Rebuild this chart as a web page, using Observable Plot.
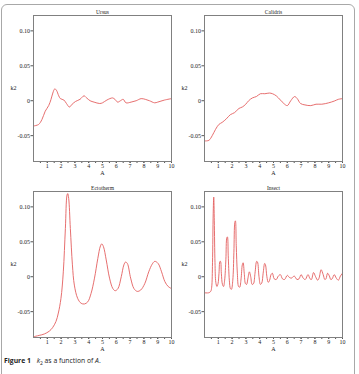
<!DOCTYPE html>
<html><head><meta charset="utf-8">
<script src="https://cdn.jsdelivr.net/npm/d3@7"></script>
<script src="https://cdn.jsdelivr.net/npm/@observablehq/plot@0.6"></script>
<style>
body{margin:0;background:#fff;width:359px;height:374px;overflow:hidden;position:relative;}
#border{position:absolute;left:1px;top:4px;width:352px;height:390px;border:1px solid #a8a8a8;border-radius:6px;}
.pan{position:absolute;}
#cap{position:absolute;left:4px;top:356px;font-family:"Open Sans",sans-serif;font-size:6.8px;color:#222;white-space:nowrap;}
#cap b{font-weight:700;margin-right:4px;}
</style></head><body>
<div id="border"></div>
<div id="p1" class="pan" style="left:0;top:0"></div>
<div id="p2" class="pan" style="left:179px;top:0"></div>
<div id="p3" class="pan" style="left:0;top:176px"></div>
<div id="p4" class="pan" style="left:179px;top:176px"></div>
<div id="cap"><b>Figure 1</b> <i>k</i><sub style="font-size:5px">2</sub> as a function of <i>A</i>.</div>
<script>
const titles = ["Ursus", "Calidris", "Ectotherm", "Insect"];
const xTicks = [1,2,3,4,5,6,7,8,9,10];
const xMinorTicks = [0.5,1,1.5,2,2.5,3,3.5,4,4.5,5,5.5,6,6.5,7,7.5,8,8.5,9,9.5,10];
const yTicks = [-0.05, 0, 0.05, 0.10];
const yTickLabels = ["-0.05", "0", "0.05", "0.10"];

const ursusA = [0.05,0.37,0.61,0.85,1.1,1.27,1.4,1.54,1.66,1.83,1.95,2.2,2.39,2.6,2.8,3.05,3.37,3.66,3.85,4.1,4.39,4.8,5.0,5.32,5.73,5.9,6.1,6.3,6.5,6.7,7.07,7.44,7.8,8.1,8.4,8.78,9.0,9.5,10];
const ursusK = [-0.036,-0.034,-0.027,-0.015,-0.007,0.002,0.011,0.017,0.015,0.007,0.003,0.001,-0.004,-0.009,-0.005,-0.001,0.002,0.007,0.004,0.0,-0.002,-0.004,-0.003,0.001,0.004,0.002,-0.002,0.0,0.002,-0.003,-0.002,0.0,0.003,0.002,0.0,-0.003,-0.002,0.001,0.003];

const calidrisA = [0.05,0.32,0.56,0.8,1.04,1.28,1.58,1.87,2.18,2.5,2.74,2.99,3.2,3.47,3.76,4.05,4.37,4.7,4.93,5.2,5.5,5.75,6.0,6.25,6.53,6.72,6.96,7.28,7.7,8.08,8.5,9.0,9.4,9.7,10];
const calidrisK = [-0.0576,-0.0567,-0.05,-0.041,-0.034,-0.031,-0.026,-0.02,-0.017,-0.011,-0.009,-0.005,0.0,0.004,0.006,0.01,0.01,0.011,0.01,0.007,0.001,-0.004,-0.007,0.0,0.006,0.003,-0.004,-0.006,-0.007,-0.005,-0.005,-0.003,-0.0005,0.002,0.003];

const ectoA = [0.05,0.41,0.78,1.14,1.38,1.63,1.8,1.99,2.16,2.31,2.43,2.48,2.55,2.67,2.82,2.96,3.2,3.45,3.69,3.93,4.17,4.42,4.66,4.85,4.95,5.07,5.27,5.51,5.75,5.92,6.12,6.36,6.55,6.67,6.8,7.04,7.28,7.52,7.77,8.06,8.35,8.6,8.79,9.03,9.28,9.52,9.76,10];
const ectoK = [-0.0857,-0.084,-0.082,-0.078,-0.073,-0.064,-0.052,-0.031,0.007,0.069,0.117,0.119,0.112,0.069,0.017,-0.012,-0.031,-0.038,-0.039,-0.036,-0.024,-0.002,0.026,0.044,0.047,0.043,0.024,-0.002,-0.017,-0.02,-0.017,0.0,0.017,0.021,0.019,-0.002,-0.017,-0.021,-0.019,-0.01,0.007,0.018,0.022,0.019,0.007,-0.007,-0.014,-0.017];

const insectA = [0,0.3,0.45,0.52,0.58,0.63,0.67,0.71,0.76,0.82,0.9,0.98,1.05,1.12,1.16,1.22,1.3,1.38,1.46,1.55,1.62,1.66,1.72,1.8,1.88,1.95,2.05,2.13,2.2,2.24,2.3,2.38,2.47,2.55,2.65,2.74,2.8,2.88,2.97,3.05,3.15,3.25,3.35,3.45,3.55,3.66,3.78,3.84,3.95,4.05,4.15,4.25,4.36,4.42,4.52,4.62,4.72,4.82,4.92,5.05,5.2,5.35,5.5,5.65,5.8,6.0,6.15,6.3,6.5,6.7,6.85,7.0,7.15,7.3,7.5,7.65,7.75,7.9,8.05,8.2,8.3,8.45,8.6,8.72,8.8,8.92,9.05,9.15,9.25,9.4,9.55,9.7,9.85,10];
const insectK = [-0.023,-0.023,-0.021,-0.015,0.02,0.09,0.114,0.08,0.02,-0.008,-0.014,-0.01,0.005,0.022,0.022,0.005,-0.011,-0.014,-0.005,0.025,0.056,0.057,0.03,-0.005,-0.017,-0.018,-0.005,0.035,0.078,0.08,0.045,0.005,-0.014,-0.015,-0.003,0.017,0.02,0.005,-0.01,-0.011,-0.002,0.007,0.0,-0.011,-0.01,0.005,0.022,0.021,0.0,-0.011,-0.009,0.005,0.019,0.017,0.0,-0.008,-0.005,0.003,0.005,-0.003,-0.004,0.001,0.003,-0.003,-0.004,0.002,-0.001,-0.002,0.001,-0.004,-0.003,0.003,-0.002,-0.004,0.003,-0.003,-0.004,0.006,0.0,-0.005,-0.002,0.01,0.003,-0.004,-0.003,0.005,0.001,-0.004,-0.003,0.003,-0.002,-0.005,0.001,0.005];

const lineColor = "#e35f5f";

function panel(id, title, A, K, ml) {
  const data = A.map((a, i) => ({a, k: K[i]}));
  const plot = Plot.plot({
    width: ml + 138 + 10,
    height: 15 + 146 + 26,
    marginLeft: ml, marginRight: 10, marginTop: 15, marginBottom: 26,
    x: {domain: [0, 10]},
    y: {domain: [-0.087, 0.122]},
    style: {fontFamily: "'Liberation Serif', serif", fontSize: "6px", color: "#222", background: "transparent", overflow: "visible"},
    marks: [
      Plot.axisX(xMinorTicks, {tickSize: 2, tickFormat: () => "", label: null, stroke: "#555"}),
      Plot.axisX(xTicks, {tickSize: 2, tickPadding: 0.5, label: null, stroke: "#555"}),
      Plot.axisY(yTicks, {tickSize: 2.5, tickPadding: 1, label: null, stroke: "#555", tickFormat: d => yTickLabels[yTicks.indexOf(d)]}),
      Plot.line(data, {x: "a", y: "k", stroke: lineColor, strokeWidth: 0.9, curve: "catmull-rom"}),
      Plot.frame({stroke: "#808080", strokeWidth: 1}),
      Plot.text([title], {text: d => d, frameAnchor: "top", dy: -2, lineAnchor: "bottom", fontSize: 5.5}),
      Plot.text(["k2"], {text: d => d, frameAnchor: "left", dx: -23}),
      Plot.text(["A"], {text: d => d, frameAnchor: "bottom", dy: 13.8})
    ]
  });
  document.getElementById(id).appendChild(plot);
}
panel("p1", titles[0], ursusA, ursusK, 33);
panel("p2", titles[1], calidrisA, calidrisK, 25);
panel("p3", titles[2], ectoA, ectoK, 33);
panel("p4", titles[3], insectA, insectK, 25);
</script>
</body></html>
